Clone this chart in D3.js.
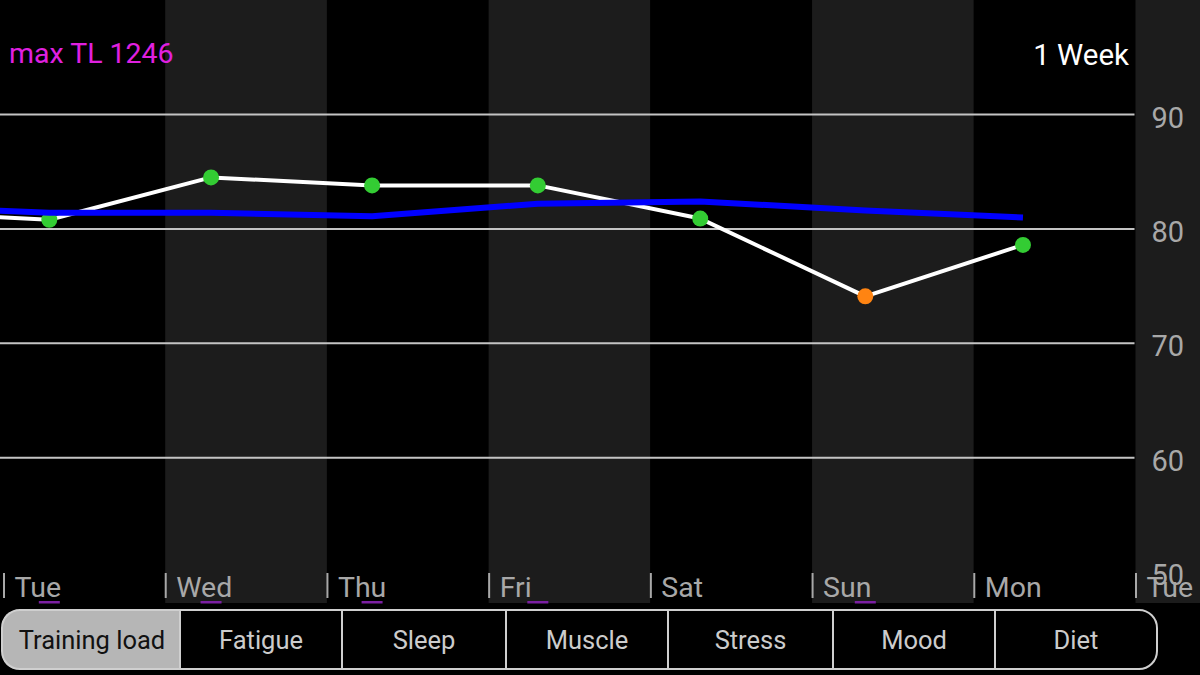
<!DOCTYPE html>
<html><head><meta charset="utf-8">
<script src="https://cdn.jsdelivr.net/npm/d3@7"></script>
<style>html,body{margin:0;padding:0;background:#000;overflow:hidden}svg{display:block}</style>
</head><body><svg id="c" width="1200" height="675"></svg>
<script>
// ---- data ----
const days = ["Tue","Wed","Thu","Fri","Sat","Sun","Mon","Tue"];
const dayIndex = [-1, 0, 1, 2, 3, 4, 5, 6];          // -1 = previous Mon (off-screen)
const measureHour = [7.3, 6.8, 6.8, 6.7, 7.3, 7.4, 7.9, 7.3];
const trainingLoad = [81.5, 80.8, 84.5, 83.8, 83.8, 80.9, 74.1, 78.6];
const average = [82.0, 81.4, 81.4, 81.1, 82.2, 82.4, 81.6, 81.0];
const pointColor = ["green","green","green","green","green","green","orange","green"];
const flagged = [false, true, true, true, true, false, true, false];
const yTicks = [50, 60, 70, 80, 90];
const tabs = ["Training load","Fatigue","Sleep","Muscle","Stress","Mood","Diet"];
const maxTL = 1246;
const rangeLabel = "1 Week";

// ---- layout ----
const svg = d3.select("#c");
const x = d3.scaleLinear().domain([0, 7]).range([3.5, 1135.5]);
const y = d3.scaleLinear().domain([50, 90]).range([572, 114.5]);
const bandBottom = 603;
const colors = {green:"#33cc33", orange:"#ff8412"};
const font = "Roboto, 'DejaVu Sans', sans-serif";

// background bands
svg.selectAll("rect.band").data(d3.range(-1, 8)).join("rect")
  .attr("x", d => d === -1 ? -200 : (d === 0 ? 0 : x(d)))
  .attr("y", 0)
  .attr("width", d => d === -1 ? 200 : (d === 7 ? 1200 - x(7) : x(d + 1) - (d === 0 ? 0 : x(d))))
  .attr("height", bandBottom)
  .attr("fill", d => (d % 2 === 0) ? "#000" : "#1c1c1c");

// gridlines
svg.selectAll("line.grid").data(yTicks.filter(t => t > 50)).join("line")
  .attr("x1", 0).attr("x2", x(7) - 1)
  .attr("y1", d => y(d)).attr("y2", d => y(d))
  .attr("stroke", "#c4c4c4").attr("stroke-width", 2);

// day ticks and labels
const dayG = svg.append("g");
dayG.selectAll("line").data(days).join("line")
  .attr("x1", (d, i) => x(i) + 0.5).attr("x2", (d, i) => x(i) + 0.5)
  .attr("y1", 573).attr("y2", 598)
  .attr("stroke", "#a8a8a8").attr("stroke-width", 2);
dayG.selectAll("text").data(days).join("text")
  .attr("x", (d, i) => x(i) + 11).attr("y", 597)
  .attr("font-family", font).attr("font-size", 28.5)
  .attr("fill", "#a8a8a8").text(d => d);

// y labels
svg.selectAll("text.ylab").data(yTicks).join("text")
  .attr("class", "ylab")
  .attr("x", 1184).attr("y", d => y(d) + 5.5)
  .attr("text-anchor", "end").attr("dominant-baseline", "middle")
  .attr("font-family", font).attr("font-size", 29)
  .attr("fill", "#a8a8a8").text(d => d);

// purple flags
const pts = trainingLoad.map((v, i) => ({
  t: dayIndex[i] + measureHour[i] / 24, v, avg: average[i], c: pointColor[i], f: flagged[i]
}));
svg.selectAll("rect.flag").data(pts.filter(p => p.f)).join("rect")
  .attr("x", p => x(p.t) - 10.5).attr("y", 601).attr("width", 21).attr("height", 2.5)
  .attr("fill", "#7b1fa2");

// training load line
const line = d3.line().x(p => x(p.t)).y(p => y(p.v));
svg.append("path").datum(pts).attr("d", line)
  .attr("fill", "none").attr("stroke", "#fff").attr("stroke-width", 4)
  .attr("stroke-linejoin", "round");

// points
svg.selectAll("circle.pt").data(pts.filter(p => p.t >= 0)).join("circle")
  .attr("cx", p => x(p.t)).attr("cy", p => y(p.v)).attr("r", 8)
  .attr("fill", p => colors[p.c]);

// average line
const avgLine = d3.line().x(p => x(p.t)).y(p => y(p.avg));
svg.append("path").datum(pts).attr("d", avgLine)
  .attr("fill", "none").attr("stroke", "#0000ff").attr("stroke-width", 6)
  .attr("stroke-linejoin", "round");

// titles
svg.append("text").attr("x", 9).attr("y", 63)
  .attr("font-family", font).attr("font-size", 28.5).attr("fill", "#e020e0")
  .text("max TL " + maxTL);
svg.append("text").attr("x", 1129).attr("y", 65).attr("text-anchor", "end")
  .attr("font-family", font).attr("font-size", 29.5).attr("fill", "#fff")
  .text(rangeLabel);

// tab bar
const tabEdges = [2, 180, 342, 506, 668, 833, 995, 1157];
const tabTop = 610, tabBot = 669, r = 18;
const tg = svg.append("g");
// selected tab fill (rounded left corners)
tg.append("path")
  .attr("d", `M${tabEdges[1]},${tabTop} L${tabEdges[0]+r},${tabTop} Q${tabEdges[0]},${tabTop} ${tabEdges[0]},${tabTop+r} L${tabEdges[0]},${tabBot-r} Q${tabEdges[0]},${tabBot} ${tabEdges[0]+r},${tabBot} L${tabEdges[1]},${tabBot} Z`)
  .attr("fill", "#b6b6b6");
tg.append("rect").attr("x", tabEdges[0]).attr("y", tabTop)
  .attr("width", tabEdges[7] - tabEdges[0]).attr("height", tabBot - tabTop)
  .attr("rx", r).attr("fill", "none").attr("stroke", "#cfcfcf").attr("stroke-width", 2);
tg.selectAll("line").data(tabEdges.slice(1, 7)).join("line")
  .attr("x1", d => d).attr("x2", d => d).attr("y1", tabTop).attr("y2", tabBot)
  .attr("stroke", "#cfcfcf").attr("stroke-width", 2);
tg.selectAll("text").data(tabs).join("text")
  .attr("x", (d, i) => (tabEdges[i] + tabEdges[i + 1]) / 2 + (i === 0 ? 1 : 0))
  .attr("y", 649).attr("text-anchor", "middle")
  .attr("font-family", font).attr("font-size", 25.5)
  .attr("fill", (d, i) => i === 0 ? "#111" : "#cccccc")
  .text(d => d);
</script></body></html>
